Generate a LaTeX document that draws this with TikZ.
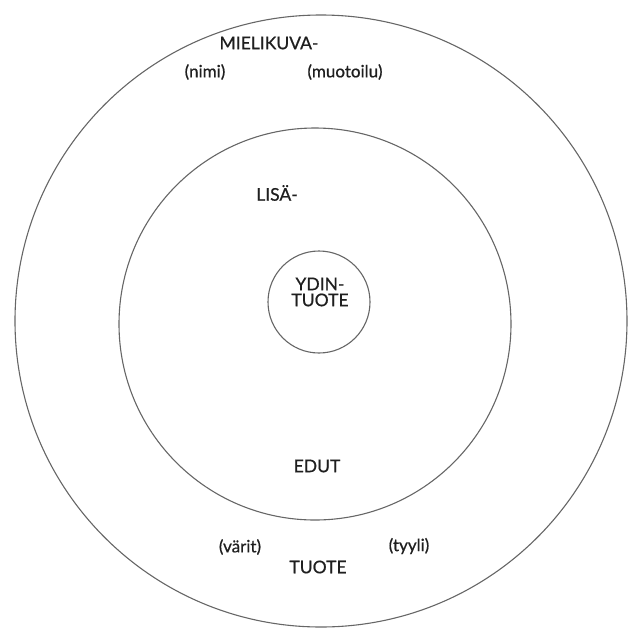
\documentclass[tikz,border=0pt]{standalone}
\usepackage{fontspec}
\setmainfont{Lato}
% Lato regular, slightly thickened for the labels
\newfontfamily\labelfont{Lato}[BoldFont=Lato, BoldFeatures={FakeBold=0.7}]
\begin{document}
\begin{tikzpicture}[x=1pt,y=-1pt,
  ring/.style={circle,draw=black!60,line width=1.1pt,inner sep=0pt,minimum size=#1},
  lbl/.style={text=black!88,font=\labelfont\bfseries\fontsize{17.5}{19}\selectfont,inner sep=0pt,align=center},
  sublbl/.style={text=black!88,font=\labelfont\bfseries\fontsize{17}{18}\selectfont,inner sep=0pt}]
  \useasboundingbox (0,0) rectangle (633,641);
  \clip (0,0) rectangle (633,641);
  % three nested product layers
  \node[ring=612pt] (outer) at (321,321) {};
  \node[ring=392pt] (middle) at (315,324) {};
  \node[ring=102pt] (core) at (319,302) {};
  % core layer
  \node[lbl] (ydin) at (320,292) {YDIN-\\[-3pt]TUOTE};
  % augmented layer
  \node[lbl] (lisa) at (277,193) {LISÄ-};
  \node[lbl] (edut) at (317,466) {EDUT};
  % image layer
  \node[lbl] (mieli) at (269,43) {MIELIKUVA-};
  \node[sublbl] (nimi) at (205,72) {(nimi)};
  \node[sublbl] (muoto) at (345,72) {(muotoilu)};
  \node[sublbl] (varit) at (240,547) {(värit)};
  \node[sublbl] (tyyli) at (409,546) {(tyyli)};
  \node[lbl] (tuote) at (318,567) {TUOTE};
\end{tikzpicture}
\end{document}
